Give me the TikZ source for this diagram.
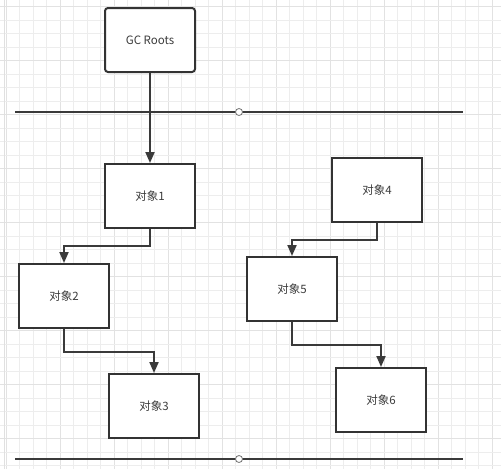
\documentclass[tikz,border=0pt]{standalone}
\usepackage{fontspec}
\setmainfont{Noto Sans CJK SC}
\usetikzlibrary{arrows.meta}
\definecolor{boxline}{HTML}{333333}
\definecolor{conline}{HTML}{3A3A3A}
\definecolor{txt}{HTML}{3C3C3C}
\definecolor{gridminor}{HTML}{EDEDED}
\definecolor{gridmajor}{HTML}{E2E2E2}
\tikzset{
  objbox/.style={draw=boxline, line width=2pt, fill=white, rectangle,
    minimum width=90pt, minimum height=64pt, inner sep=0pt,
    text=txt, font=\fontsize{11.5pt}{13pt}\selectfont},
  rootbox/.style={objbox, rounded corners=3pt},
  conn/.style={draw=conline, line width=2pt,
    -{Triangle[length=11pt,width=9pt]}},
  sepline/.style={draw=conline, line width=2pt},
  knob/.style={circle, draw=black!55, line width=0.8pt, fill=white,
    minimum size=7pt, inner sep=0pt},
  gminor/.style={draw=gridminor, line width=0.8pt},
  gmajor/.style={draw=gridmajor, line width=0.9pt}
}
\begin{document}
\begin{tikzpicture}[x=1pt, y=-1pt]
\useasboundingbox (0,0) rectangle (501,469);
\fill[white] (0,0) rectangle (501,469);
% grid
\foreach \i in {0,...,36} {
  \pgfmathtruncatemacro{\m}{mod(\i,4)}
  \ifnum\m=0
    \draw[gmajor] ({6+13.5*\i},0) -- ({6+13.5*\i},469);
  \else
    \draw[gminor] ({6+13.5*\i},0) -- ({6+13.5*\i},469);
  \fi
}
\foreach \j in {0,...,34} {
  \pgfmathtruncatemacro{\m}{mod(\j,4)}
  \ifnum\m=0
    \draw[gmajor] (0,{6.5+13.5*\j}) -- (501,{6.5+13.5*\j});
  \else
    \draw[gminor] (0,{6.5+13.5*\j}) -- (501,{6.5+13.5*\j});
  \fi
}
\draw[draw=black!12, line width=1.5pt] (4.5,0) -- (4.5,469);

% separator lines
\coordinate (l1a) at (15,112);
\coordinate (l1b) at (463,112);
\coordinate (l2a) at (15,459);
\coordinate (l2b) at (463,459);
\draw[sepline] (l1a) -- (l1b);
\draw[sepline] (l2a) -- (l2b);
\node[knob] (k1) at (239,112) {};
\node[knob] (k2) at (239,459) {};

% nodes
\node[rootbox] (gc) at (150,40) {GC Roots};
\node[objbox] (o1) at (150,196) {对象1};
\node[objbox] (o2) at (64,296) {对象2};
\node[objbox] (o3) at (154,406) {对象3};
\node[objbox] (o4) at (377,190) {对象4};
\node[objbox] (o5) at (292,289) {对象5};
\node[objbox] (o6) at (381,400) {对象6};

% connectors
\draw[conn] (gc.south) -- (o1.north);
\draw[conn] (o1.south) -- ++(0,17) -| (o2.north);
\draw[conn] (o2.south) -- ++(0,23) -| (o3.north);
\draw[conn] (o4.south) -- ++(0,17) -| (o5.north);
\draw[conn] (o5.south) -- ++(0,23) -| (o6.north);
\end{tikzpicture}
\end{document}
